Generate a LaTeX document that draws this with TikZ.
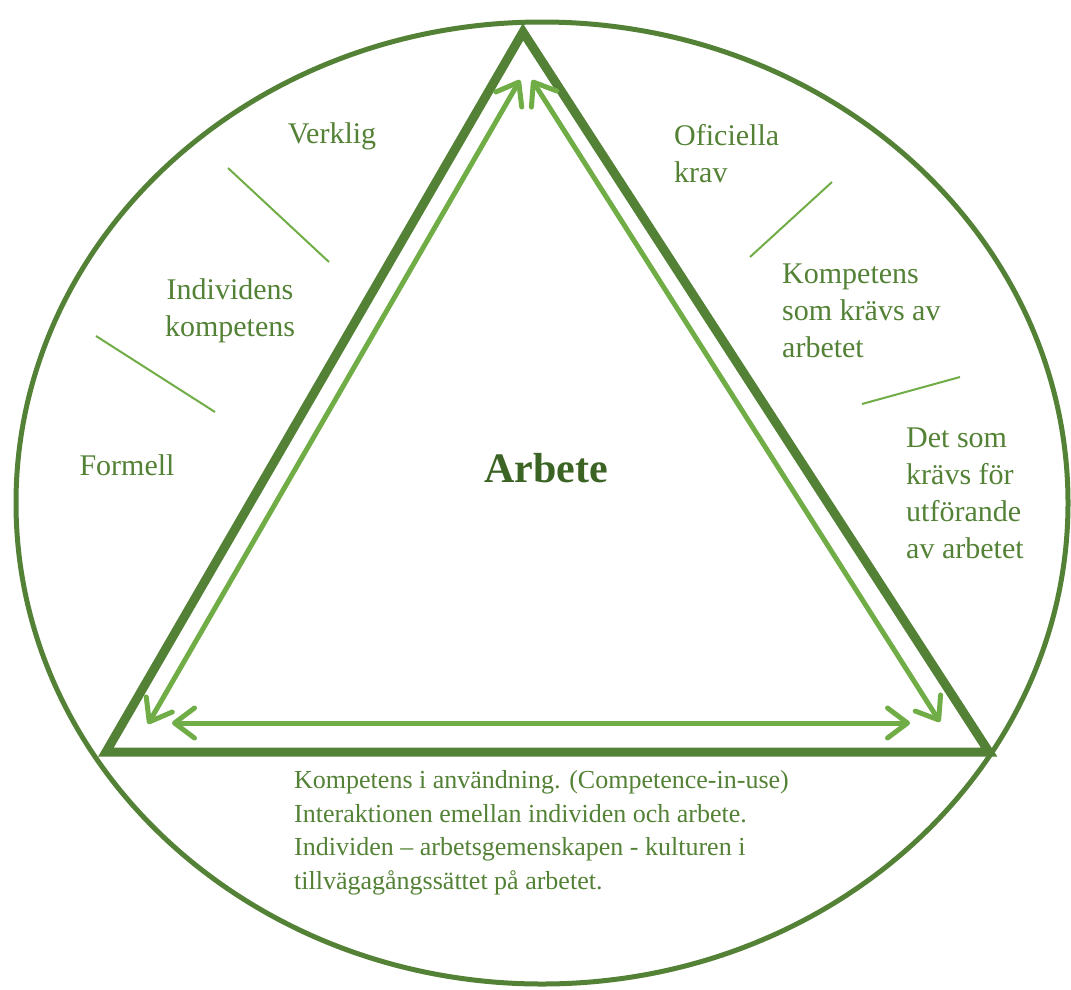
\documentclass[tikz,border=0pt]{standalone}
\usepackage{fontspec}
\setmainfont{Liberation Serif}
\usetikzlibrary{arrows.meta}
\definecolor{darkg}{HTML}{538135}
\definecolor{lightg}{HTML}{70AD47}
\definecolor{deepg}{HTML}{3B6424}
\tikzset{
  ring/.style={draw=darkg, line width=5pt},
  tri/.style={draw=darkg, line width=9pt, line join=miter},
  dblarrow/.style={draw=lightg, line width=5pt, line cap=round,
    {Straight Barb[length=20pt,width=30pt,round]}-{Straight Barb[length=20pt,width=30pt,round]}},
  sep/.style={draw=lightg, line width=2pt},
  lbl/.style={text=darkg, inner sep=0pt, font=\fontsize{30}{37}\selectfont},
  bottomlbl/.style={text=darkg, inner sep=0pt, align=left, font=\fontsize{26}{33.5}\selectfont},
  title/.style={text=deepg, inner sep=0pt, font=\fontsize{42}{48}\selectfont\bfseries}
}
\begin{document}
\begin{tikzpicture}[x=1pt,y=-1pt]
\useasboundingbox (0,0) rectangle (1071,989);
% outer ellipse
\draw[ring] (542,503) ellipse [x radius=526, y radius=481];
% triangle
\coordinate (apex) at (523,32);
\coordinate (bl) at (106,752);
\coordinate (br) at (989,752);
\draw[tri] (apex) -- (bl) -- (br) -- cycle;
% double arrows
\coordinate (la1) at (520,80);
\coordinate (la2) at (148,724);
\coordinate (ra1) at (532,80);
\coordinate (ra2) at (940,722);
\coordinate (ba1) at (172,723);
\coordinate (ba2) at (910,723);
\draw[dblarrow] (la1) -- (la2);
\draw[dblarrow] (ra1) -- (ra2);
\draw[dblarrow] (ba1) -- (ba2);
% separator lines
\coordinate (s1a) at (228,168); \coordinate (s1b) at (329,262);
\coordinate (s2a) at (96,336);  \coordinate (s2b) at (215,412);
\coordinate (s3a) at (832,182); \coordinate (s3b) at (750,257);
\coordinate (s4a) at (862,404); \coordinate (s4b) at (960,377);
\draw[sep] (s1a) -- (s1b);
\draw[sep] (s2a) -- (s2b);
\draw[sep] (s3a) -- (s3b);
\draw[sep] (s4a) -- (s4b);
% labels
\node[lbl] (verklig) at (332,136) {Verklig};
\node[lbl, align=center] (individens) at (230,311) {Individens\\kompetens};
\node[lbl] (formell) at (127,465) {Formell};
\node[lbl, align=left, anchor=west] (oficiella) at (674,154) {Oficiella\\krav};
\node[lbl, align=left, anchor=west] (kompetens) at (782,311) {Kompetens\\som krävs av\\arbetet};
\node[lbl, align=left, anchor=west] (detsom) at (906,493) {Det som\\krävs för\\utförande\\av arbetet};
\node[title] (arbete) at (546,468) {Arbete};
\node[bottomlbl, anchor=west] (bottom) at (294,833) {Kompetens i användning. (Competence-in-use)\\Interaktionen emellan individen och arbete.\\Individen – arbetsgemenskapen - kulturen i\\tillvägagångssättet på arbetet.};
\end{tikzpicture}
\end{document}
